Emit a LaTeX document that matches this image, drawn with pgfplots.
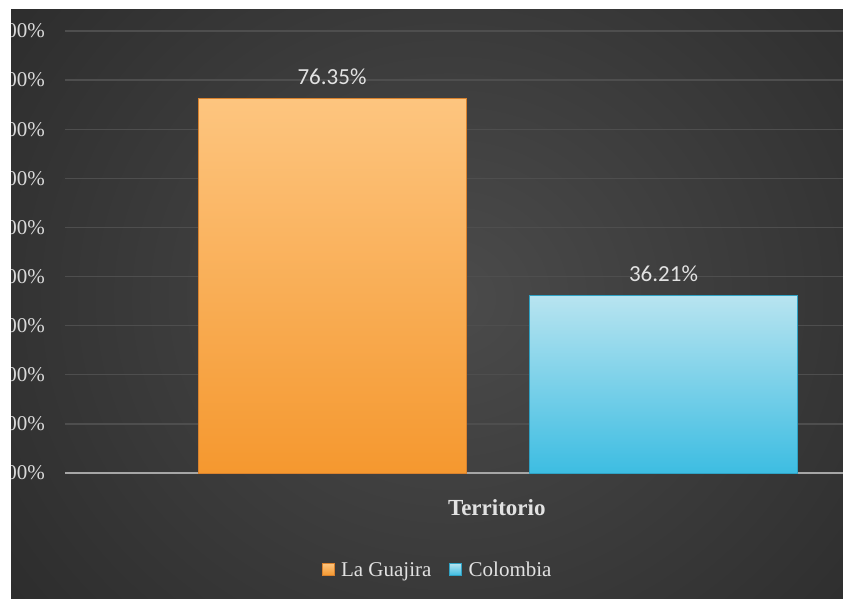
\documentclass[border=0pt]{standalone}
\usepackage{pgfplots}
\pgfplotsset{compat=1.18}
\usepackage{fontspec}
\setmainfont{Liberation Serif}
\newfontfamily\calib{Carlito}
\definecolor{bgin}{HTML}{4B4B4B}
\definecolor{bgout}{HTML}{2A2A2A}
\definecolor{gridc}{HTML}{4E4E4E}
\definecolor{basec}{HTML}{A6A6A6}
\definecolor{tickc}{HTML}{D9D9D9}
\definecolor{labc}{HTML}{E2E2E2}
\definecolor{or1}{HTML}{FDC57F}
\definecolor{or2}{HTML}{F5982F}
\definecolor{orD}{HTML}{D9822E}
\definecolor{bl1}{HTML}{B8E4F0}
\definecolor{bl2}{HTML}{3DBDE2}
\definecolor{blD}{HTML}{2FA2C4}
\begin{document}
\begin{tikzpicture}
\useasboundingbox (0pt,0pt) rectangle (843pt,598pt);
\clip (0pt,0pt) rectangle (843pt,598pt);
\fill[white] (0pt,0pt) rectangle (843pt,598pt);
\begin{scope}
\clip (11pt,0pt) rectangle (843pt,589pt);
\shade[inner color=bgin, outer color=bgout] (-150pt,-250pt) rectangle (1050pt,850pt);
\end{scope}
\begin{axis}[
  at={(65pt,125pt)}, anchor=south west,
  scale only axis, width=778pt, height=442pt,
  xmin=65, xmax=843, ymin=0, ymax=90,
  axis line style={draw=none},
  major tick length=0pt,
  xtick=\empty,
  ytick={0,10,...,90},
  ymajorgrids,
  grid style={color=gridc, line width=1.3pt},
  /pgf/number format/assume math mode=true,
  yticklabel={\pgfmathprintnumber[fixed,fixed zerofill,precision=2]{\tick}\%},
  yticklabel style={font=\fontsize{21}{21}\selectfont, text=tickc, anchor=east, inner sep=0pt, xshift=-20pt},
  ybar, bar shift=0pt, bar width=268,
  xlabel={Territorio},
  xlabel style={at={(axis description cs:0.555,-0.079)}, anchor=center, font=\bfseries\fontsize{23}{23}\selectfont, text=labc},
  legend style={at={(axis description cs:0.479,-0.219)}, anchor=center, draw=none, fill=none, legend columns=2,
    font=\fontsize{21}{21}\selectfont, text=labc, /tikz/every even column/.append style={column sep=16pt}},
  legend image code/.code={\path[draw=none,fill=none] (0pt,0pt) -- (17pt,0pt); \draw[#1, line width=0.5pt] (0pt,-5.5pt) rectangle (12pt,6.5pt);},
]
\draw[basec, line width=1.6pt] (axis cs:65,0) -- (axis cs:843,0);
\addplot[top color=or1, bottom color=or2, draw=orD, line width=0.6pt] coordinates {(332,76.35)};
\addplot[top color=bl1, bottom color=bl2, draw=blD, line width=0.6pt] coordinates {(663.5,36.21)};
\addplot[draw=none, fill=none, forget plot,
  nodes near coords={\pgfmathprintnumber[fixed,fixed zerofill,precision=2]{\pgfplotspointmeta}\%},
  nodes near coords style={font=\calib\fontsize{23}{23}\selectfont, text=labc, anchor=south, inner sep=0pt, yshift=13pt}]
  coordinates {(332,76.35) (663.5,36.21)};
\legend{La Guajira, Colombia}
\end{axis}
\fill[white] (0pt,0pt) rectangle (11pt,598pt);
\fill[white] (0pt,589pt) rectangle (843pt,598pt);
\end{tikzpicture}
\end{document}
